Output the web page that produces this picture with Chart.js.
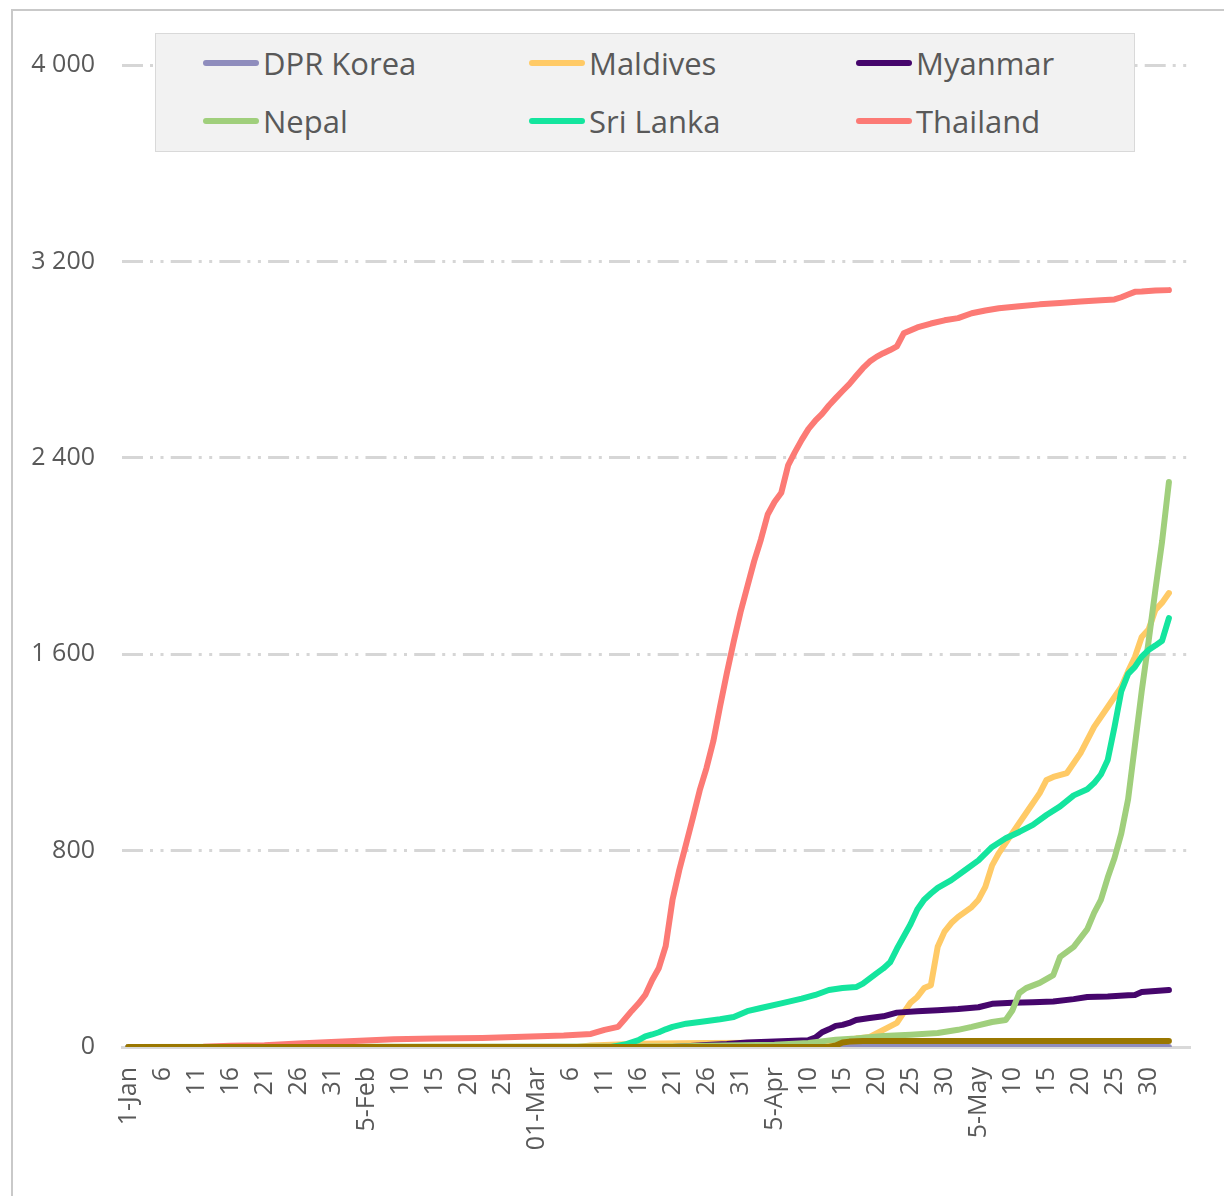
<!DOCTYPE html>
<html>
<head>
<meta charset="utf-8">
<title>Cumulative confirmed cases</title>
<script src="https://cdn.jsdelivr.net/npm/chart.js@4.4.1/dist/chart.umd.min.js"></script>
<style>
    html, body { margin: 0; padding: 0; background: #fff; }
    body { width: 1224px; height: 1196px; position: relative; overflow: hidden; font-family: 'Open Sans', sans-serif; }
    .frame { position: absolute; left: 11px; top: 9px; width: 1400px; height: 1400px;
             border-top: 2px solid #c9c9c9; border-left: 2px solid #c9c9c9; }
    #casesChart { position: absolute; left: 0; top: 0; }
    .legend { position: absolute; left: 155px; top: 33px; width: 978px; height: 117px;
              background: #f2f2f2; border: 1px solid #d9d9d9; }
    .legend-item { position: absolute; height: 40px; display: flex; align-items: center;
                   font-size: 31px; line-height: 1; color: #595959; white-space: nowrap; }
    .legend-swatch { width: 56px; height: 6px; border-radius: 3px; margin-right: 4px; }
</style>
</head>
<body>
<div class="frame"></div>
<canvas id="casesChart" width="1224" height="1196"></canvas>
<div class="legend" id="legend"></div>

<script>
// x values are days counted from 1 January; ticks every 5 days
const xTickLabels = ['1-Jan', '6', '11', '16', '21', '26', '31', '5-Feb', '10', '15', '20', '25',
    '01-Mar', '6', '11', '16', '21', '26', '31', '5-Apr', '10', '15', '20', '25', '30',
    '5-May', '10', '15', '20', '25', '30'];
const yTickValues = [0, 800, 1600, 2400, 3200, 4000];

const legendSeries = ['DPR Korea', 'Maldives', 'Myanmar', 'Nepal', 'Sri Lanka', 'Thailand'];

const dprKoreaDays = [0, 153];
const dprKoreaCases = [0, 0];

const maldivesDays = [0, 66, 68, 70, 75, 85, 95, 100, 103, 105, 107, 109, 111, 113, 114, 115, 116, 117, 118,
    119, 120, 121, 122, 124, 125, 126, 127, 128, 130, 132, 134, 135, 136, 138, 140, 142, 144, 146, 147, 148,
    149, 150, 151, 152, 153];
const maldivesCases = [0, 0, 6, 8, 13, 16, 17, 19, 20, 22, 35, 41, 70, 98, 140, 180, 204, 240, 252,
    408, 470, 505, 530, 570, 600, 652, 740, 790, 872, 953, 1034, 1088, 1100, 1116, 1197, 1304, 1385, 1467, 1530, 1589,
    1670, 1700, 1780, 1810, 1849];

const myanmarDays = [0, 80, 82, 85, 88, 91, 94, 97, 100, 101, 102, 103, 104, 105, 106, 107, 109, 111, 113, 116,
    119, 122, 125, 127, 130, 133, 136, 139, 141, 144, 147, 148, 149, 151, 153];
const myanmarCases = [0, 0, 3, 8, 12, 18, 21, 24, 28, 38, 60, 72, 86, 90, 98, 110, 118, 125, 140, 146,
    150, 155, 162, 176, 180, 182, 185, 195, 204, 206, 211, 212, 224, 228, 232];

const nepalDays = [0, 22, 80, 85, 95, 100, 104, 107, 111, 115, 119, 122, 124, 127, 129, 130, 131, 132, 134, 136,
    137, 139, 141, 142, 143, 144, 145, 146, 147, 148, 149, 150, 151, 152, 153];
const nepalCases = [0, 1, 2, 5, 9, 16, 30, 35, 45, 50, 57, 70, 82, 102, 110, 150, 220, 240, 261, 293,
    367, 408, 480, 546, 599, 690, 770, 870, 1010, 1230, 1450, 1650, 1860, 2060, 2301];

const sriLankaDays = [0, 71, 73, 75, 76, 77, 78, 79, 80, 82, 84, 87, 89, 91, 93, 96, 99, 101, 103, 105, 107, 108,
    110, 111, 112, 113, 114, 115, 116, 117, 118, 119, 121, 123, 125, 127, 129, 131, 133, 135, 137, 139, 141,
    142, 143, 144, 145, 146, 147, 148, 149, 150, 151, 152, 153];
const sriLankaCases = [0, 0, 10, 28, 43, 51, 60, 72, 82, 95, 102, 113, 122, 146, 159, 178, 197, 212, 232, 240, 244, 258,
    300, 320, 345, 400, 450, 500, 560, 600, 625, 648, 680, 720, 760, 815, 850, 876, 905, 945, 980, 1025, 1050,
    1075, 1110, 1169, 1304, 1450, 1520, 1548, 1590, 1617, 1635, 1655, 1747];

const thailandDays = [0, 11, 15, 20, 25, 29, 34, 39, 45, 52, 58, 64, 68, 70, 72,
    73, 74, 75, 76, 77, 78, 79, 80, 81, 82, 83, 84, 85, 86, 87, 88, 89, 90, 91, 92, 93, 94,
    95, 96, 97, 98, 99, 100, 101, 102, 103, 104, 105, 106, 107, 108, 109, 110, 111, 112, 113, 114,
    116, 118, 120, 122, 124, 126, 128, 131, 134, 137, 140, 143, 145, 146, 147, 148, 149, 151, 153];
const thailandCases = [0, 1, 5, 7, 14, 19, 25, 32, 35, 37, 42, 47, 53, 70, 82,
    114, 147, 177, 212, 272, 322, 411, 599, 721, 827, 934, 1045, 1136, 1245, 1388, 1524, 1651, 1771, 1875, 1978, 2067, 2169,
    2220, 2258, 2369, 2423, 2473, 2518, 2551, 2579, 2613, 2643, 2672, 2700, 2733, 2765, 2792, 2811, 2826, 2839, 2854, 2907,
    2931, 2947, 2960, 2969, 2989, 3000, 3009, 3017, 3025, 3031, 3037, 3042, 3045, 3054, 3065, 3076, 3077, 3081, 3083];

// extra series, drawn but not listed in the legend
const timorLesteDays = [0, 103, 104, 105, 106, 108, 153];
const timorLesteCases = [0, 0, 6, 18, 22, 24, 24];

const seriesStyles = [
    { label: 'DPR Korea', days: dprKoreaDays, values: dprKoreaCases, color: '#8f8dbd', order: 7 },
    { label: 'Maldives', days: maldivesDays, values: maldivesCases, color: '#ffca66', order: 6 },
    { label: 'Myanmar', days: myanmarDays, values: myanmarCases, color: '#46066c', order: 5 },
    { label: 'Nepal', days: nepalDays, values: nepalCases, color: '#a0cf7c', order: 4 },
    { label: 'Sri Lanka', days: sriLankaDays, values: sriLankaCases, color: '#14e59e', order: 3 },
    { label: 'Thailand', days: thailandDays, values: thailandCases, color: '#fc7a75', order: 2 },
    { label: 'Timor-Leste', days: timorLesteDays, values: timorLesteCases, color: '#9a7700', order: 1 }
];

const TEXT_COLOR = '#595959';
const TICK_FONT = { family: "'Open Sans', sans-serif", size: 25 };

function toPoints(days, values) {
    return days.map((d, i) => ({ x: d, y: values[i] }));
}

function formatThousands(value) {
    return String(value).replace(/\B(?=(\d{3})+(?!\d))/g, ' ');
}

function buildLegend(chart) {
    const box = document.getElementById('legend');
    const columns = [47, 373, 700];
    const rows = [9, 67];
    chart.data.datasets.forEach(ds => {
        const k = legendSeries.indexOf(ds.label);
        if (k < 0) return;
        const item = document.createElement('div');
        item.className = 'legend-item';
        item.style.left = columns[k % 3] + 'px';
        item.style.top = rows[Math.floor(k / 3)] + 'px';
        const swatch = document.createElement('span');
        swatch.className = 'legend-swatch';
        swatch.style.background = ds.borderColor;
        const text = document.createElement('span');
        text.textContent = ds.label;
        item.appendChild(swatch);
        item.appendChild(text);
        box.appendChild(item);
    });
}

const casesChart = new Chart(document.getElementById('casesChart'), {
    type: 'line',
    data: {
        datasets: seriesStyles.map(s => ({
            label: s.label,
            data: toPoints(s.days, s.values),
            borderColor: s.color,
            backgroundColor: s.color,
            order: s.order
        }))
    },
    options: {
        responsive: false,
        animation: false,
        layout: { padding: { left: 12, right: 34, top: 65, bottom: 0 } },
        plugins: {
            legend: { display: false },
            tooltip: { enabled: false }
        },
        elements: {
            point: { radius: 0 },
            line: { borderWidth: 6, tension: 0, borderCapStyle: 'round', borderJoinStyle: 'round', fill: false }
        },
        scales: {
            x: {
                type: 'linear',
                min: -0.95,
                max: 156.1,
                afterBuildTicks: scale => {
                    scale.ticks = xTickLabels.map((_, i) => ({ value: i * 5 }));
                },
                afterFit: scale => { scale.height = 149; },
                grid: { display: false, drawTicks: false },
                border: { display: true, color: '#d9d9d9', width: 3 },
                ticks: {
                    autoSkip: false,
                    minRotation: 90,
                    maxRotation: 90,
                    padding: 20,
                    color: TEXT_COLOR,
                    font: TICK_FONT,
                    callback: (value, index) => xTickLabels[index]
                }
            },
            y: {
                min: yTickValues[0],
                max: yTickValues[yTickValues.length - 1],
                afterBuildTicks: scale => {
                    scale.ticks = yTickValues.map(v => ({ value: v }));
                },
                afterFit: scale => { scale.width = 110; },
                grid: {
                    drawTicks: false,
                    lineWidth: 3,
                    color: ctx => (ctx.tick && ctx.tick.value === 0 ? 'rgba(0,0,0,0)' : '#d6d6d6')
                },
                border: { display: false, dash: [21, 7, 3, 7.5, 3, 7.2] },
                ticks: {
                    padding: 27,
                    color: TEXT_COLOR,
                    font: TICK_FONT,
                    callback: value => formatThousands(value)
                }
            }
        }
    }
});

buildLegend(casesChart);
</script>
</body>
</html>
